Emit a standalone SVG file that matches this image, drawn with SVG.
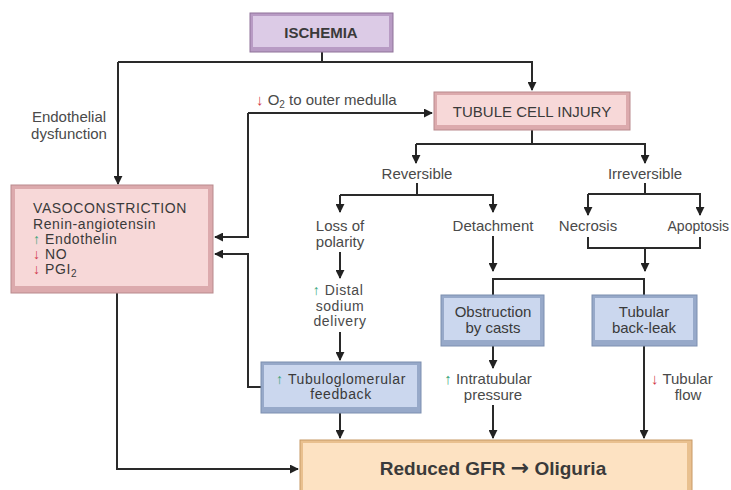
<svg xmlns="http://www.w3.org/2000/svg" width="731" height="490" viewBox="0 0 731 490">
<defs>
<marker id="ah" viewBox="0 0 10 10" refX="9" refY="5" markerWidth="4.5" markerHeight="4.5" orient="auto" markerUnits="strokeWidth">
<path d="M0,0 L10,5 L0,10 z" fill="#222"/>
</marker>
<style>
.ln{fill:none;stroke:#2a2a2a;stroke-width:2}
.ar{marker-end:url(#ah)}
.t{font-family:"Liberation Sans",Arial,sans-serif;font-size:15px;fill:#4a4a4a}
.s{font-size:14px;letter-spacing:0.6px}
.bt{fill:#3a3a3a}
.c{text-anchor:middle}
.e{text-anchor:end}
.b{font-weight:bold}
.up{fill:#3aa57a}
.dn{fill:#d23a4a}
.pu-o{fill:#b89bc4;stroke:#8f7399;stroke-width:1}
.pu-i{fill:#dccbe6}
.pk-o{fill:#dcaaad;stroke:#b98a8d;stroke-width:1}
.pk-i{fill:#f7d8d8}
.bl-o{fill:#97a9c9;stroke:#7d8fb0;stroke-width:1}
.bl-i{fill:#cbd7ee}
.or-o{fill:#e9c08f;stroke:#c89a66;stroke-width:1}
.or-i{fill:#fde2c2}
</style>
</defs>
<rect width="731" height="490" fill="#ffffff"/>

<g id="connectors">
<path class="ln" d="M322,52 V62"/>
<path class="ln ar" d="M118,62 H532 V90"/>
<path class="ln ar" d="M118,62 V184"/>
<path class="ln ar" d="M248,113 H432"/>
<path class="ln ar" d="M248,113 V237 H215"/>
<path class="ln ar" d="M117,293 V469 H298"/>
<path class="ln" d="M532,130 V144"/>
<path class="ln ar" d="M416,144 H645 V163"/>
<path class="ln ar" d="M416,144 V163"/>
<path class="ln" d="M417,183 V195"/>
<path class="ln ar" d="M340,195 H493 V212"/>
<path class="ln ar" d="M340,195 V212"/>
<path class="ln ar" d="M340,252 V278"/>
<path class="ln ar" d="M340,332 V360"/>
<path class="ln ar" d="M340,413 V438"/>
<path class="ln ar" d="M261,387 H248 V254 H215"/>
<path class="ln" d="M645,183 V194"/>
<path class="ln ar" d="M588,194 H700 V215"/>
<path class="ln ar" d="M588,194 V215"/>
<path class="ln" d="M588,237 V248 H700 V237"/>
<path class="ln ar" d="M645,248 V271"/>
<path class="ln ar" d="M493,236 V271"/>
<path class="ln" d="M493,295 V279 H644 V295"/>
<path class="ln ar" d="M493,346 V368"/>
<path class="ln ar" d="M493,405 V438"/>
<path class="ln ar" d="M644,346 V438"/>
</g>

<g id="ischemia">
<rect class="pu-o" x="250" y="13" width="143" height="39"/>
<rect class="pu-i" x="253" y="16" width="136" height="31"/>
<text class="t bt c b" x="321" y="38">ISCHEMIA</text>
</g>

<g id="tubule-cell-injury">
<rect class="pk-o" x="434" y="92" width="196" height="38"/>
<rect class="pk-i" x="437" y="95" width="189" height="30"/>
<text class="t bt c" x="532" y="117">TUBULE CELL INJURY</text>
</g>

<g id="vasoconstriction">
<rect class="pk-o" x="11" y="185" width="202" height="108"/>
<rect class="pk-i" x="15" y="189" width="193" height="97"/>
<text class="t s bt" x="33" y="213">VASOCONSTRICTION</text>
<text class="t s bt" x="33" y="229">Renin-angiotensin</text>
<text class="t s bt" x="33" y="244"><tspan class="up">↑</tspan> Endothelin</text>
<text class="t s bt" x="33" y="259"><tspan class="dn">↓</tspan> NO</text>
<text class="t s bt" x="33" y="274"><tspan class="dn">↓</tspan> PGI<tspan font-size="10" dy="3">2</tspan></text>
</g>

<g id="label-endothelial">
<text class="t c" x="69" y="122">Endothelial</text>
<text class="t c" x="69" y="139">dysfunction</text>
</g>

<g id="label-o2">
<text class="t" x="256" y="105"><tspan class="dn">↓</tspan> O<tspan font-size="10" dy="3">2</tspan><tspan dy="-3"> to outer medulla</tspan></text>
</g>

<g id="reversible">
<text class="t c" x="417" y="179">Reversible</text>
</g>
<g id="irreversible">
<text class="t c" x="645" y="179">Irreversible</text>
</g>

<g id="loss-of-polarity">
<text class="t c" x="340" y="231">Loss of</text>
<text class="t c" x="340" y="247">polarity</text>
</g>
<g id="detachment">
<text class="t c" x="493" y="231">Detachment</text>
</g>
<g id="necrosis">
<text class="t c" x="588" y="231">Necrosis</text>
</g>
<g id="apoptosis">
<text class="t e" x="729" y="231" style="font-size:14px">Apoptosis</text>
</g>

<g id="distal-sodium">
<text class="t s c" x="338" y="295"><tspan class="up">↑</tspan> Distal</text>
<text class="t s c" x="340" y="311">sodium</text>
<text class="t s c" x="340" y="326">delivery</text>
</g>

<g id="tubuloglomerular-feedback">
<rect class="bl-o" x="261" y="362" width="160" height="51"/>
<rect class="bl-i" x="264" y="365" width="153" height="42"/>
<text class="t s bt c" x="341" y="384"><tspan class="up">↑</tspan> Tubuloglomerular</text>
<text class="t s bt c" x="341" y="399">feedback</text>
</g>

<g id="obstruction">
<rect class="bl-o" x="441" y="295" width="103" height="51"/>
<rect class="bl-i" x="444" y="298" width="96" height="42"/>
<text class="t bt c" x="493" y="317">Obstruction</text>
<text class="t bt c" x="493" y="333">by casts</text>
</g>

<g id="back-leak">
<rect class="bl-o" x="592" y="295" width="105" height="51"/>
<rect class="bl-i" x="595" y="298" width="98" height="42"/>
<text class="t bt c" x="644" y="317">Tubular</text>
<text class="t bt c" x="644" y="333">back-leak</text>
</g>

<g id="intratubular-pressure">
<text class="t c" x="488" y="384"><tspan class="up">↑</tspan> Intratubular</text>
<text class="t c" x="493" y="400">pressure</text>
</g>

<g id="tubular-flow">
<text class="t" x="651" y="384"><tspan class="dn">↓</tspan> Tubular</text>
<text class="t c" x="688" y="400">flow</text>
</g>

<g id="reduced-gfr">
<rect class="or-o" x="300" y="440" width="392" height="56"/>
<rect class="or-i" x="303" y="443" width="384" height="50"/>
<text class="t bt c b" x="493" y="475" style="font-size:19px">Reduced GFR <tspan style="font-family:'DejaVu Sans',sans-serif;font-size:22px">→</tspan> Oliguria</text>
</g>
</svg>
